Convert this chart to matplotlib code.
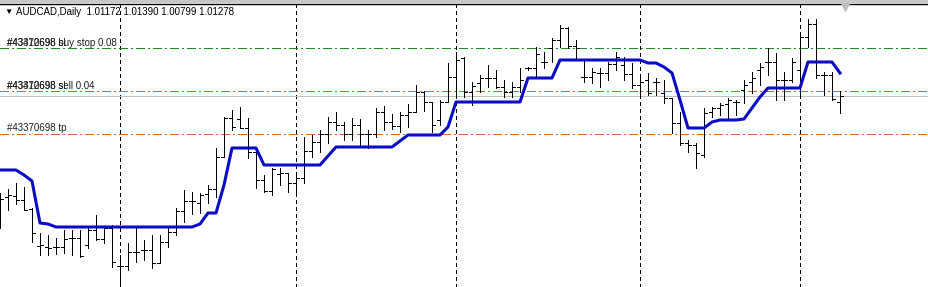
import matplotlib
matplotlib.use("Agg")
import matplotlib.pyplot as plt
import numpy as np

# AUDCAD daily bars, prices in units of 0.0001
high = [9934, 9942, 9954, 9946, 9904, 9854, 9850, 9844, 9860, 9860,
        9860, 9866, 9890, 9864, 9870, 9810, 9834, 9866, 9840, 9850,
        9850, 9864, 9904, 9940, 9936, 9934, 9950, 10024, 10086, 10100,
        10106, 10084, 10026, 9970, 9984, 9984, 9974, 9976, 10046, 10050,
        10060, 10086, 10096, 10076, 10084, 10082, 10060, 10104, 10108, 10092,
        10096, 10112, 10150, 10138, 10116, 10120, 10194, 10216, 10206, 10156,
        10170, 10190, 10180, 10160, 10156, 10184, 10186, 10226, 10216, 10244,
        10270, 10266, 10240, 10200, 10184, 10184, 10196, 10216, 10206, 10194,
        10170, 10174, 10164, 10160, 10124, 10096, 10040, 10034, 10104, 10106,
        10114, 10124, 10120, 10160, 10176, 10194, 10224, 10214, 10176, 10204,
        10254, 10282, 10282, 10176, 10176, 10139]
low = [9864, 9900, 9912, 9900, 9836, 9810, 9810, 9812, 9814, 9810,
       9806, 9824, 9840, 9834, 9786, 9736, 9780, 9796, 9800, 9784,
       9794, 9826, 9850, 9876, 9892, 9894, 9914, 9926, 10006, 10060,
       10064, 10004, 9944, 9936, 9930, 9950, 9936, 9936, 9954, 10006,
       10016, 10034, 10060, 10040, 10040, 10028, 10024, 10046, 10060, 10062,
       10056, 10066, 10096, 10098, 10056, 10070, 10116, 10126, 10126, 10110,
       10136, 10146, 10144, 10126, 10126, 10136, 10180, 10166, 10184, 10196,
       10226, 10224, 10200, 10156, 10154, 10146, 10160, 10180, 10160, 10144,
       10126, 10130, 10130, 10114, 10054, 10030, 10016, 9984, 10006, 10086,
       10090, 10080, 10090, 10114, 10134, 10150, 10170, 10120, 10120, 10156,
       10126, 10226, 10164, 10130, 10120, 10094]
opn = [9920, 9926, 9928, 9920, 9902, 9828, 9826, 9826, 9826, 9844,
       9844, 9830, 9860, 9842, 9864, 9788, 9788, 9816, 9820, 9820,
       9794, 9836, 9856, 9898, 9918, 9914, 9932, 9942, 10006, 10084,
       10082, 10064, 10016, 9960, 9938, 9972, 9974, 9954, 9964, 10018,
       10036, 10052, 10076, 10070, 10052, 10070, 10052, 10052, 10096, 10076,
       10068, 10090, 10096, 10136, 10116, 10080, 10116, 10166, 10204, 10136,
       10154, 10164, 10164, 10146, 10136, 10146, 10184, 10184, 10196, 10224,
       10240, 10264, 10228, 10166, 10166, 10174, 10174, 10192, 10190, 10172,
       10150, 10160, 10156, 10134, 10124, 10074, 10034, 10030, 10010, 10096,
       10104, 10112, 10116, 10140, 10156, 10180, 10196, 10196, 10160, 10160,
       10180, 10246, 10272, 10170, 10170, 10117]
close = [9922, 9930, 9920, 9900, 9854, 9830, 9824, 9826, 9842, 9844,
         9808, 9860, 9842, 9864, 9796, 9788, 9816, 9816, 9820, 9794,
         9836, 9856, 9898, 9918, 9918, 9930, 9942, 10006, 10084, 10066,
         10064, 10016, 9960, 9938, 9982, 9974, 9954, 9964, 10018, 10036,
         10052, 10076, 10070, 10052, 10070, 10052, 10052, 10096, 10076, 10068,
         10090, 10096, 10136, 10116, 10070, 10116, 10166, 10200, 10136, 10148,
         10164, 10164, 10146, 10136, 10146, 10160, 10184, 10212, 10196, 10240,
         10264, 10228, 10224, 10166, 10176, 10174, 10192, 10206, 10172, 10150,
         10156, 10134, 10156, 10124, 10074, 10034, 10030, 10014, 10094, 10104,
         10110, 10120, 10116, 10150, 10164, 10186, 10196, 10160, 10160, 10196,
         10246, 10272, 10170, 10170, 10122, 10128]

# blue indicator line
indicator = [9980, 9980, 9980, 9970, 9958, 9874, 9872, 9866, 9866, 9866,
             9866, 9866, 9866, 9866, 9866, 9866, 9866, 9866, 9866, 9866,
             9866, 9866, 9866, 9866, 9866, 9872, 9894, 9894, 9950, 10024,
             10024, 10024, 10024, 9990, 9990, 9990, 9990, 9990, 9990, 9990,
             9990, 10008, 10026, 10026, 10026, 10026, 10026, 10026, 10026, 10026,
             10038, 10050, 10050, 10050, 10050, 10050, 10066, 10116, 10116, 10116,
             10116, 10116, 10116, 10116, 10116, 10116, 10164, 10164, 10164, 10164,
             10200, 10200, 10200, 10200, 10200, 10200, 10200, 10200, 10200, 10200,
             10200, 10194, 10194, 10186, 10174, 10120, 10064, 10064, 10064, 10076,
             10080, 10080, 10080, 10082, 10104, 10126, 10144, 10144, 10144, 10144,
             10144, 10196, 10196, 10196, 10196, 10174]

month_starts = [15, 37, 57, 80, 100]

buy_stop_level = 10224
sell_level = 10138
tp_level = 10052
bid_level = 10128

header = "AUDCAD,Daily  1.01172 1.01390 1.00799 1.01278"

W, H = 929, 287
fig = plt.figure(figsize=(W / 100, H / 100), dpi=100)
fig.patch.set_facecolor("white")

top_px = 4
ax = fig.add_axes([0, 0, 1, (H - top_px) / H])
ax.set_xlim(0, W / 8)
# 0.0002 per pixel
ax.set_ylim((10320 - 2 * H) / 10000, (10320 - 2 * top_px) / 10000)
for s in ["left", "right", "bottom"]:
    ax.spines[s].set_visible(False)
ax.spines["top"].set_color("black")
ax.spines["top"].set_linewidth(1.0)
ax.set_xticks([])
ax.set_yticks([])

# gray strip above the chart
fig.patches.append(plt.Rectangle((0, (H - 3) / H), 1, 3 / H, transform=fig.transFigure,
                                 facecolor="#c8c8c8", edgecolor="none"))

px = 0.72  # one pixel in points
x = np.arange(len(high))
hi = np.array(high) / 10000
lo = np.array(low) / 10000
op = np.array(opn) / 10000
cl = np.array(close) / 10000

# separators
for m in month_starts:
    ax.axvline(m, color="black", lw=px, linestyle=(0, (3, 3)), zorder=1, antialiased=False)

# order levels
ax.axhline(buy_stop_level / 10000, color="#22862a", lw=px, linestyle=(0, (9, 3, 2, 3)),
           zorder=1, antialiased=False)
ax.axhline(sell_level / 10000, color="#d2691e", lw=px, linestyle=(0, (9, 3, 2, 3)),
           zorder=1, antialiased=False)
ax.axhline(tp_level / 10000, color="#d2691e", lw=px, linestyle=(0, (9, 3, 2, 3)),
           zorder=1, antialiased=False)
ax.axhline(bid_level / 10000, color="#c0c0c0", lw=px, zorder=1, antialiased=False)

# OHLC bars
ax.vlines(x, lo, hi, color="black", lw=px, zorder=3, antialiased=False)
ax.hlines(op, x - 0.375, x, color="black", lw=px, zorder=3, antialiased=False)
ax.hlines(cl, x, x + 0.375, color="black", lw=px, zorder=3, antialiased=False)

ax.plot(x, np.array(indicator) / 10000, color="#0c0cc4", lw=2.2, zorder=4,
        solid_joinstyle="round")

# shift marker
ax.plot([105.6], [(10320 - 2 * 7) / 10000], marker="v", color="#c0c0c0", ms=6, zorder=5,
        clip_on=False)


def ftxt(xp, yp, s, size=7, color="black"):
    fig.text(xp / W, 1 - yp / H, s, va="center", ha="left", fontsize=size,
             family="Liberation Sans", color=color)


ftxt(4, 12, "\u25bc", size=6)
ftxt(16, 12, header)
ftxt(7, 43, "#43412698 buy stop 0.08", color="#202020")
ftxt(7, 43, "#43370698 sl", color="#202020")
ftxt(7, 86, "#43370698 sell 0.04", color="#202020")
ftxt(7, 86, "#43412698 sl", color="#202020")
ftxt(7, 128, "#43370698 tp", color="#202020")

fig.savefig("out.png", dpi=100, facecolor="white")
